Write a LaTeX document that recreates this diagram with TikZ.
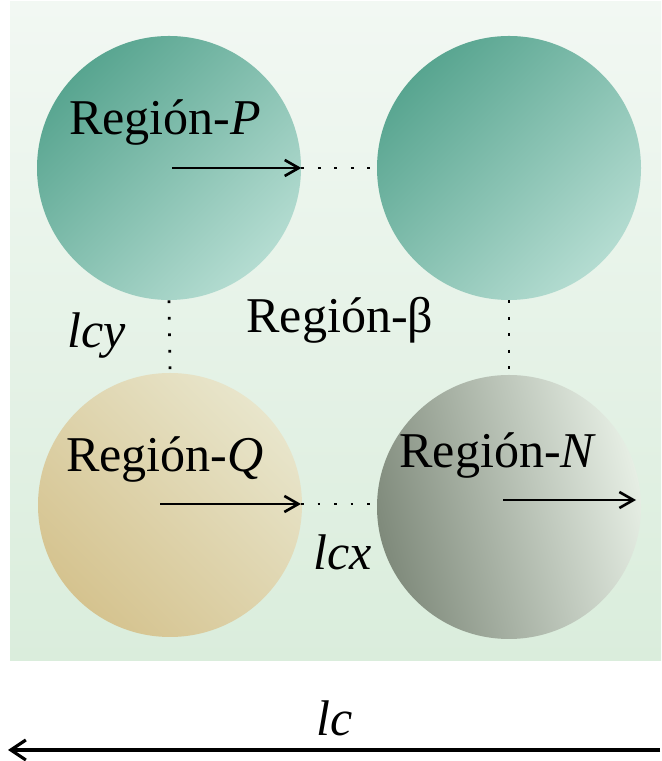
\documentclass[tikz,border=0pt]{standalone}
\usepackage{fontspec}
\setmainfont{Liberation Serif}
\usetikzlibrary{arrows.meta}

\definecolor{bgtop}{HTML}{F2F8F3}
\definecolor{bgbot}{HTML}{DAEDDC}
\definecolor{tealdark}{HTML}{58A590}
\definecolor{teallight}{HTML}{B4DCD1}
\definecolor{tandark}{HTML}{D5C38F}
\definecolor{tanlight}{HTML}{E8E5CB}
\definecolor{greydark}{HTML}{7F8A7B}
\definecolor{greylight}{HTML}{E6EEE4}

\begin{document}
\begin{tikzpicture}[
  region/.style={circle,minimum size=5.28cm,inner sep=0pt},
  flow/.style={line width=1.5pt,-{Straight Barb[length=2.8mm,width=3.2mm]}},
  gap/.style={line width=1.6pt,dash pattern=on 1.6pt off 7.8pt},
  lbl/.style={font=\fontsize{28.5}{34}\selectfont,inner sep=0pt,anchor=base}
]
\useasboundingbox (0,0) rectangle (13.220,15.220);
% background panel
\shade[top color=bgtop,bottom color=bgbot] (0.200,2.000) rectangle (13.220,15.180);

% the four regions
\node[region,top color=tealdark,bottom color=teallight,shading angle=45] (P) at (3.380,11.860) {};
\node[region,top color=tealdark,bottom color=teallight,shading angle=45] (B) at (10.180,11.860) {};
\node[region,top color=tanlight,bottom color=tandark,shading angle=-45] (Q) at (3.400,5.120) {};
\node[region,top color=greylight,bottom color=greydark,shading angle=-75] (N) at (10.180,5.080) {};

% arrows and gaps
\coordinate (pstart) at (3.440,11.860);
\coordinate (qstart) at (3.200,5.140);
\coordinate (qend) at (6.020,5.140);
\coordinate (nstart) at (10.060,5.220);
\coordinate (nend) at (12.720,5.220);
\draw[flow] (pstart) -- (P.east);
\draw[gap] (P.east) -- (B.west);
\draw[flow] (qstart) -- (qend);
\draw[gap] (qend) -- (qend -| N.west);
\draw[flow] (nstart) -- (nend);
\draw[gap] (P.south) -- (Q.north);
\draw[gap] (B.south) -- (B.south |- N.north);

% labels
\node[lbl] (lp) at (3.300,12.520) {Región-\textit{P}};
\node[lbl] (lb) at (6.800,8.560) {Región-β};
\node[lbl] (lq) at (3.300,5.780) {Región-\textit{Q}};
\node[lbl] (ln) at (9.960,5.860) {Región-\textit{N}};
\node[lbl] (ly) at (1.940,8.260) {\textit{lcy}};
\node[lbl] (lx) at (6.860,3.820) {\textit{lcx}};

% overall size
\coordinate (cright) at (13.200,0.220);
\coordinate (cleft) at (0.160,0.220);
\draw[line width=1.8pt,-{Straight Barb[length=3mm,width=4mm]}] (cright) -- (cleft);
\node[lbl] (lc) at (6.700,0.520) {\textit{lc}};
\end{tikzpicture}
\end{document}
